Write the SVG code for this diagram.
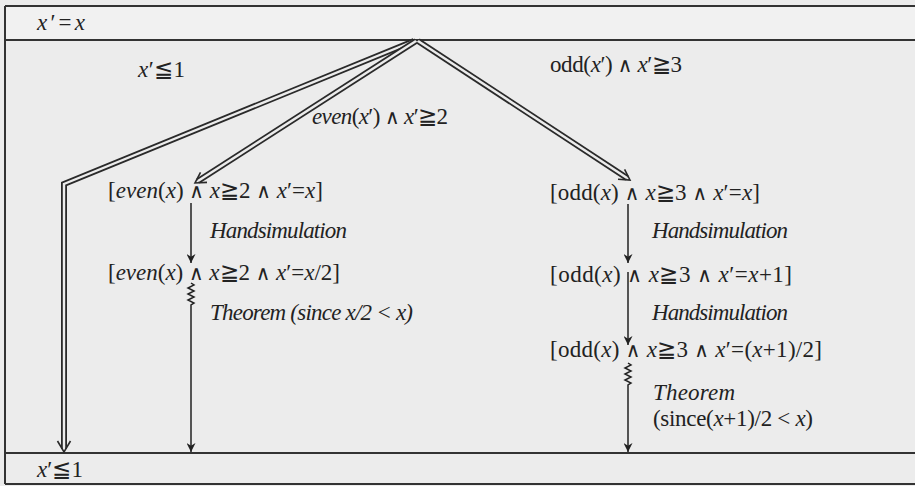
<svg xmlns="http://www.w3.org/2000/svg" width="915" height="486" viewBox="0 0 915 486">
<defs>
<style>
text{font-family:"Liberation Serif","DejaVu Serif",serif;font-size:23px;fill:#222}
.i{font-style:italic}
.w{font-size:20px;font-family:"DejaVu Serif",serif}
.frame{stroke:#333;stroke-width:2;fill:none}
.dbl-o{stroke:#2a2a2a;stroke-width:6;fill:none;stroke-linejoin:miter}
.dbl-i{stroke:#ececec;stroke-width:2.4;fill:none;stroke-linejoin:miter}
.chev{stroke:#2a2a2a;stroke-width:1.6;fill:none;stroke-linejoin:miter}
.sgl{stroke:#222;stroke-width:1.5;fill:none}
</style>
<marker id="ah" viewBox="0 0 10 10" refX="10" refY="5" markerWidth="9" markerHeight="9" markerUnits="userSpaceOnUse" orient="auto">
<path d="M0,0 L10,5 L0,10 L3,5 z" fill="#222"/>
</marker>
</defs>
<rect x="0" y="0" width="915" height="486" fill="#ececec"/>
<rect x="5" y="6" width="915" height="34" fill="#f1f1f1"/>
<g id="frame">
<path class="frame" d="M5,6 H915 M5,40 H915 M5,453 H915 M5,484 H915 M5,6 V484"/>
</g>
<g id="connectors">
<path class="dbl-o" d="M414,41 L64,184 L64,449"/>
<path class="dbl-i" d="M414,41 L64,184 L64,449"/>
<polyline class="chev" points="57.5,441 64,452 70.5,441"/>
<path class="dbl-o" d="M416,41 L198,181"/>
<path class="dbl-i" d="M416,41 L198,181"/>
<polyline class="chev" points="207,182.4 195,183 200.5,172.3"/>
<path class="dbl-o" d="M418,41 L627,178"/>
<path class="dbl-i" d="M418,41 L627,178"/>
<polyline class="chev" points="624.6,169.3 630,180 618,179.3"/>
<path class="sgl" marker-end="url(#ah)" d="M191,203 V263"/>
<path class="sgl" marker-end="url(#ah)" d="M191,283 l3,2 l-6,3 l6,3 l-6,3 l6,3 l-6,3 l6,3 l-3,2 V452"/>
<path class="sgl" marker-end="url(#ah)" d="M628,204 V263"/>
<path class="sgl" marker-end="url(#ah)" d="M628,272 V345"/>
<path class="sgl" marker-end="url(#ah)" d="M628,363 l3,2 l-6,3 l6,3 l-6,3 l6,3 l-6,3 l6,3 l-3,2 V452"/>
</g>
<g id="n-top"><text x="37" y="30" textLength="48"><tspan class="i">x</tspan>′=<tspan class="i">x</tspan></text></g>
<g id="n-le1"><text x="138" y="77" textLength="47"><tspan class="i">x</tspan>′≦1</text></g>
<g id="n-oddcond"><text x="550" y="72" textLength="132">odd(<tspan class="i">x</tspan>′) <tspan class="w">∧</tspan> <tspan class="i">x</tspan>′≧3</text></g>
<g id="n-evencond"><text x="312" y="124" textLength="136"><tspan class="i">even</tspan>(<tspan class="i">x</tspan>′) <tspan class="w">∧</tspan> <tspan class="i">x</tspan>′≧2</text></g>
<g id="n-e1"><text x="108" y="198" textLength="215">[<tspan class="i">even</tspan>(<tspan class="i">x</tspan>) <tspan class="w">∧</tspan> <tspan class="i">x</tspan>≧2 <tspan class="w">∧</tspan> <tspan class="i">x</tspan>′=<tspan class="i">x</tspan>]</text></g>
<g id="n-eh"><text class="i" x="210" y="238" textLength="137">Handsimulation</text></g>
<g id="n-e2"><text x="108" y="280" textLength="232">[<tspan class="i">even</tspan>(<tspan class="i">x</tspan>) <tspan class="w">∧</tspan> <tspan class="i">x</tspan>≧2 <tspan class="w">∧</tspan> <tspan class="i">x</tspan>′=<tspan class="i">x</tspan>/2]</text></g>
<g id="n-et"><text class="i" x="210" y="320" textLength="203">Theorem (since x/2 &lt; x)</text></g>
<g id="n-o1"><text x="550" y="200" textLength="210">[odd(<tspan class="i">x</tspan>) <tspan class="w">∧</tspan> <tspan class="i">x</tspan>≧3 <tspan class="w">∧</tspan> <tspan class="i">x</tspan>′=<tspan class="i">x</tspan>]</text></g>
<g id="n-oh1"><text class="i" x="652" y="238" textLength="136">Handsimulation</text></g>
<g id="n-o2"><text x="550" y="282" textLength="242">[odd(<tspan class="i">x</tspan>) <tspan class="w">∧</tspan> <tspan class="i">x</tspan>≧3 <tspan class="w">∧</tspan> <tspan class="i">x</tspan>′=<tspan class="i">x</tspan>+1]</text></g>
<g id="n-oh2"><text class="i" x="652" y="320" textLength="136">Handsimulation</text></g>
<g id="n-o3"><text x="550" y="357" textLength="272">[odd(<tspan class="i">x</tspan>) <tspan class="w">∧</tspan> <tspan class="i">x</tspan>≧3 <tspan class="w">∧</tspan> <tspan class="i">x</tspan>′=(<tspan class="i">x</tspan>+1)/2]</text></g>
<g id="n-ot"><text class="i" x="653" y="400" textLength="82">Theorem</text><text x="653" y="426" textLength="160">(since(<tspan class="i">x</tspan>+1)/2 &lt; <tspan class="i">x</tspan>)</text></g>
<g id="n-bottom"><text x="37" y="477" textLength="46"><tspan class="i">x</tspan>′≦1</text></g>
</svg>
